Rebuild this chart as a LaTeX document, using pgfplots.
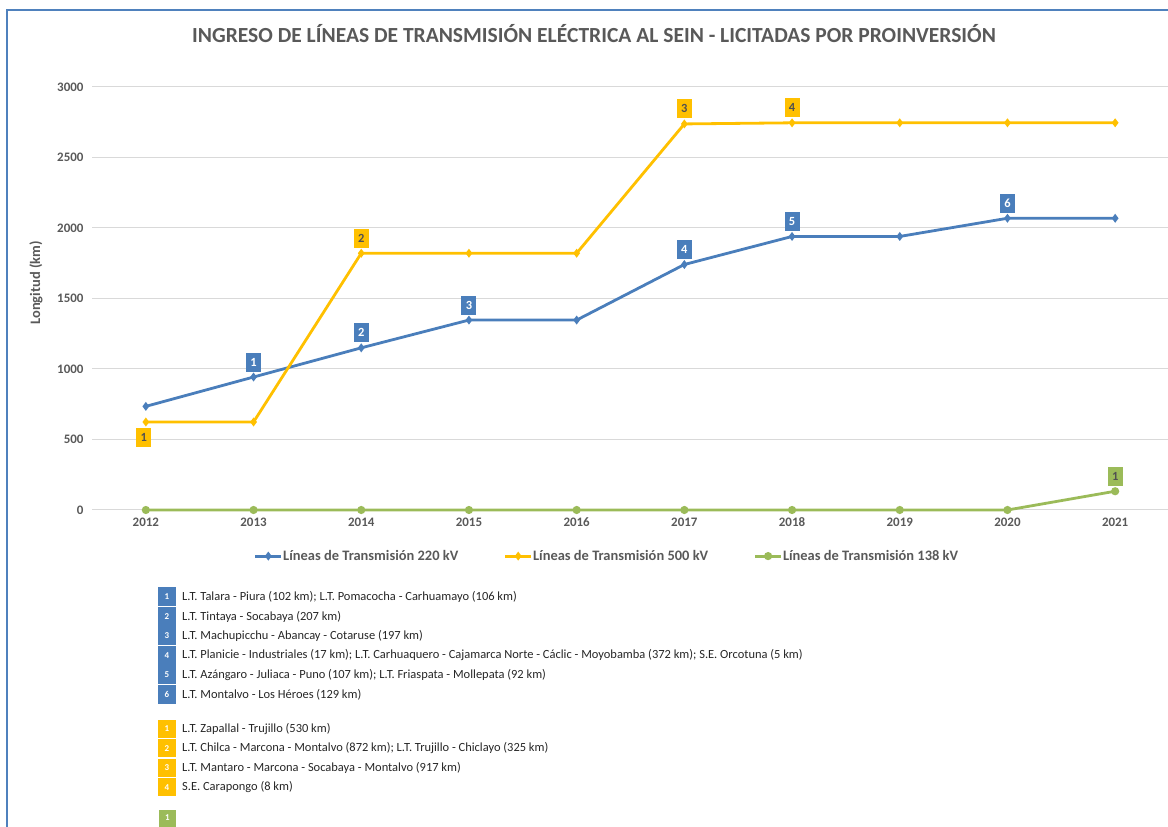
\documentclass[border=0pt]{standalone}
\usepackage{fontspec}
\setmainfont{Carlito}
\usepackage{pgfplots}
\pgfplotsset{compat=1.18}
\definecolor{cb}{HTML}{4A7EBB}
\definecolor{cy}{HTML}{FFC000}
\definecolor{cg}{HTML}{9BBB59}
\definecolor{tg}{HTML}{595959}
\definecolor{tx}{HTML}{262626}
\definecolor{gridc}{HTML}{D9D9D9}
\definecolor{framec}{HTML}{4F81BD}

\pgfplotstableread{
x y
2012 735
2013 943
2014 1150
2015 1347
2016 1347
2017 1741
2018 1940
2019 1940
2020 2069
2021 2069
}\tblue
\pgfplotstableread{
x y
2012 624
2013 624
2014 1821
2015 1821
2016 1821
2017 2738
2018 2746
2019 2746
2020 2746
2021 2746
}\tyellow
\pgfplotstableread{
x y
2012 0
2013 0
2014 0
2015 0
2016 0
2017 0
2018 0
2019 0
2020 0
2021 133
}\tgreen
\pgfplotstableread{
x y lab
2013 943 1
2014 1150 2
2015 1347 3
2017 1741 4
2018 1940 5
2020 2069 6
}\lblue

\begin{document}
\begin{tikzpicture}
\useasboundingbox (0,0) rectangle (1168bp,827bp);
\draw[framec, line width=2bp] (7bp,0) -- (7bp,817bp) -- (1168bp,817bp);
\node[text=tg, font=\bfseries\fontsize{21.6}{26}\selectfont] at (594bp,793bp)
  {INGRESO DE LÍNEAS DE TRANSMISIÓN ELÉCTRICA AL SEIN - LICITADAS POR PROINVERSIÓN};

\begin{axis}[
  at={(92bp,317bp)}, anchor=south west, scale only axis,
  width=1077bp, height=423bp,
  xmin=2011.5, xmax=2021.5, ymin=0, ymax=3000,
  clip=false,
  axis line style={draw=none},
  major tick length=0pt,
  xtick={2012,2013,2014,2015,2016,2017,2018,2019,2020,2021},
  xticklabels={2012,2013,2014,2015,2016,2017,2018,2019,2020,2021},
  ytick={0,500,1000,1500,2000,2500,3000},
  yticklabels={0,500,1000,1500,2000,2500,3000},
  ymajorgrids, grid style={gridc, line width=1bp},
  tick label style={font=\bfseries\fontsize{13}{15}\selectfont, text=tg},
  yticklabel style={xshift=-5bp},
  xticklabel style={yshift=-4bp},
  ylabel={Longitud (km)},
  every axis y label/.style={at={(axis description cs:-0.052,0.537)}, rotate=90, anchor=center},
  ylabel style={font=\bfseries\fontsize{14.5}{17}\selectfont, text=tg},
  legend columns=3,
  legend style={at={(axis description cs:0.4775,-0.109)}, anchor=center, draw=none, fill=none,
    font=\bfseries\fontsize{14.5}{17}\selectfont, text=tg,
    /tikz/every even column/.append style={column sep=45bp}, inner sep=0pt,
    nodes={inner xsep=0.5bp}},
  legend image code/.code={\draw[mark repeat=2,mark phase=2,#1] plot coordinates {(0bp,0bp) (13bp,0bp) (26bp,0bp)};},
]
\addplot[cb, line width=2.8bp, mark=diamond*, mark size=2.2bp] table[x=x,y=y] {\tblue};
\addlegendentry{Líneas de Transmisión 220 kV}
\addplot[cy, line width=2.8bp, mark=diamond*, mark size=2.2bp] table[x=x,y=y] {\tyellow};
\addlegendentry{Líneas de Transmisión 500 kV}
\addplot[cg, line width=2.8bp, mark=*, mark size=2.6bp] table[x=x,y=y] {\tgreen};
\addlegendentry{Líneas de Transmisión 138 kV}

\addplot[draw=none, mark=none, nodes near coords, point meta=explicit symbolic,
  every node near coord/.style={fill=cb, text=white, font=\bfseries\fontsize{12.5}{14}\selectfont, minimum width=15bp, minimum height=19bp, inner sep=0pt, anchor=center, yshift=15bp}]
  table[x=x,y=y,meta=lab] {\lblue};
\addplot[draw=none, mark=none, nodes near coords, point meta=explicit symbolic,
  every node near coord/.style={fill=cy, text=tx!80, font=\bfseries\fontsize{12.5}{14}\selectfont, minimum width=15bp, minimum height=19bp, inner sep=0pt, anchor=center, yshift=15bp}]
  table[x=x,y=y,meta=lab] {
x y lab
2014 1821 2
2017 2738 3
2018 2746 4
};
\addplot[draw=none, mark=none, nodes near coords, point meta=explicit symbolic,
  every node near coord/.style={fill=cy, text=tx!80, font=\bfseries\fontsize{12.5}{14}\selectfont, minimum width=15bp, minimum height=19bp, inner sep=0pt, anchor=center, yshift=-15bp, xshift=-2bp}]
  table[x=x,y=y,meta=lab] {
x y lab
2012 624 1
};
\addplot[draw=none, mark=none, nodes near coords, point meta=explicit symbolic,
  every node near coord/.style={fill=cg, text=tx!80, font=\bfseries\fontsize{12.5}{14}\selectfont, minimum width=15bp, minimum height=19bp, inner sep=0pt, anchor=center, yshift=15bp}]
  table[x=x,y=y,meta=lab] {
x y lab
2021 133 1
};
\end{axis}

% annotation list
\begin{scope}[every node/.style={font=\fontsize{12.5}{15}\selectfont, text=tx, anchor=west, inner sep=0pt}]
\foreach \n/\yy/\t in {
 1/230/{L.T. Talara - Piura (102 km); L.T. Pomacocha - Carhuamayo (106 km)},
 2/210.5/{L.T. Tintaya - Socabaya (207 km)},
 3/191/{L.T. Machupicchu - Abancay - Cotaruse (197 km)},
 4/171.5/{L.T. Planicie - Industriales (17 km); L.T. Carhuaquero - Cajamarca Norte - Cáclic - Moyobamba (372 km); S.E. Orcotuna (5 km)},
 5/152/{L.T. Azángaro - Juliaca - Puno (107 km); L.T. Friaspata - Mollepata (92 km)},
 6/132.5/{L.T. Montalvo - Los Héroes (129 km)}}{
  \fill[cb] (158bp,\yy bp-9.5bp) rectangle (176bp,\yy bp+9.5bp);
  \node[anchor=center, text=white, font=\bfseries\fontsize{9}{10}\selectfont] at (167bp,\yy bp) {\n};
  \node at (182bp,\yy bp) {\t};
}
\foreach \n/\yy/\t in {
 1/98/{L.T. Zapallal - Trujillo (530 km)},
 2/78.5/{L.T. Chilca - Marcona - Montalvo (872 km); L.T. Trujillo - Chiclayo (325 km)},
 3/59/{L.T. Mantaro - Marcona - Socabaya - Montalvo (917 km)},
 4/39.5/{S.E. Carapongo (8 km)}}{
  \fill[cy] (158bp,\yy bp-9bp) rectangle (176bp,\yy bp+9bp);
  \node[anchor=center, text=white, font=\bfseries\fontsize{9}{10}\selectfont] at (167bp,\yy bp) {\n};
  \node at (182bp,\yy bp) {\t};
}
\fill[cg] (159bp,0bp) rectangle (176bp,17bp);
\node[anchor=center, text=white, font=\bfseries\fontsize{9}{10}\selectfont] at (167.5bp,9bp) {1};
\end{scope}
\end{tikzpicture}
\end{document}
